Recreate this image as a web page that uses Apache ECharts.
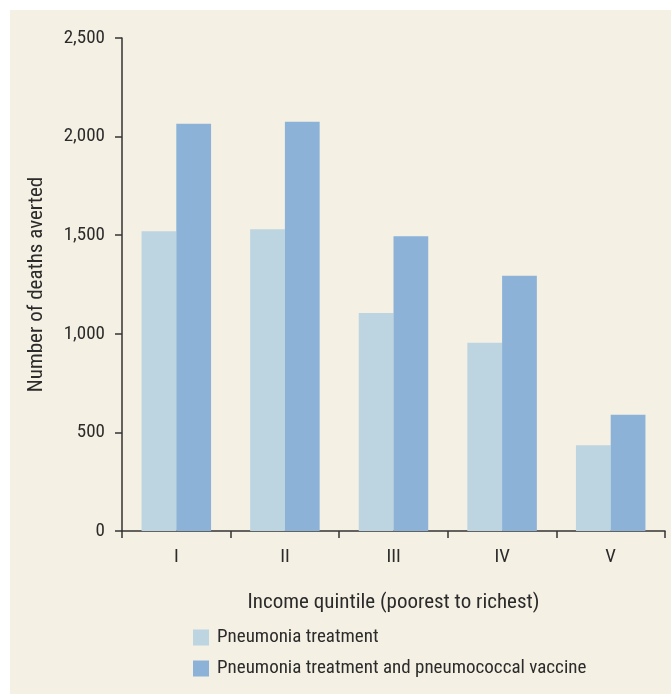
<!DOCTYPE html>
<html>
<head>
<meta charset="utf-8">
<script src="https://cdn.jsdelivr.net/npm/echarts@6/dist/echarts.min.js"></script>
<style>
  html, body { margin: 0; padding: 0; background: #ffffff; }
  .wrap { position: absolute; left: 10px; top: 10px; width: 661px; height: 684px; background: #f4f0e3; }
  #chart { position: absolute; left: -10px; top: -10px; width: 671px; height: 694px; }
</style>
</head>
<body>
<div class="wrap"><div id="chart"></div></div>
<script>
// 数据
var categories = ['I', 'II', 'III', 'IV', 'V'];
var treatment = [1520, 1530, 1105, 955, 435];
var treatmentVaccine = [2065, 2075, 1495, 1295, 590];
var seriesNames = ['Pneumonia treatment', 'Pneumonia treatment and pneumococcal vaccine'];

var font = '"Liberation Sans Narrow", "Roboto Condensed", "Liberation Sans", sans-serif';
var axisColor = '#333';
var textColor = '#2b2b2b';

var myChart = echarts.init(document.getElementById('chart'));
var option = {
  backgroundColor: 'transparent',
  textStyle: { fontFamily: font },
  grid: {
    left: 122,
    right: 6,
    top: 38,
    bottom: 163
  },
  legend: {
    orient: 'vertical',
    left: 188,
    top: 623,
    itemWidth: 16,
    itemHeight: 16,
    itemGap: 12,
    icon: 'rect',
    textStyle: { color: textColor, fontSize: 19, fontFamily: font, padding: [0, 0, 0, 3] },
    data: seriesNames
  },
  xAxis: {
    type: 'category',
    data: categories,
    name: 'Income quintile (poorest to richest)',
    nameLocation: 'middle',
    nameGap: 61,
    nameTextStyle: { color: textColor, fontSize: 21, fontFamily: font },
    axisLine: { lineStyle: { color: axisColor, width: 1.5 } },
    axisTick: { show: true, length: 7, lineStyle: { color: axisColor, width: 1.5 } },
    axisLabel: { color: textColor, fontSize: 19, margin: 17, fontFamily: font }
  },
  yAxis: {
    type: 'value',
    min: 0,
    max: 2500,
    interval: 500,
    name: 'Number of deaths averted',
    nameLocation: 'middle',
    nameGap: 75,
    nameTextStyle: { color: textColor, fontSize: 21, fontFamily: font },
    axisLine: { show: true, lineStyle: { color: axisColor, width: 1.5 } },
    axisTick: { show: true, length: 7, lineStyle: { color: axisColor, width: 1.5 } },
    splitLine: { show: false },
    axisLabel: {
      color: textColor,
      fontSize: 19,
      margin: 17,
      fontFamily: font,
      formatter: function (v) { return v.toLocaleString('en-US'); }
    }
  },
  series: [
    {
      name: seriesNames[0],
      type: 'bar',
      data: treatment,
      barWidth: '32%',
      barGap: '0%',
      itemStyle: { color: '#bdd5e1' }
    },
    {
      name: seriesNames[1],
      type: 'bar',
      data: treatmentVaccine,
      barWidth: '32%',
      barGap: '0%',
      itemStyle: { color: '#8cb2d8' }
    }
  ]
};
myChart.setOption(option);
</script>
</body>
</html>
